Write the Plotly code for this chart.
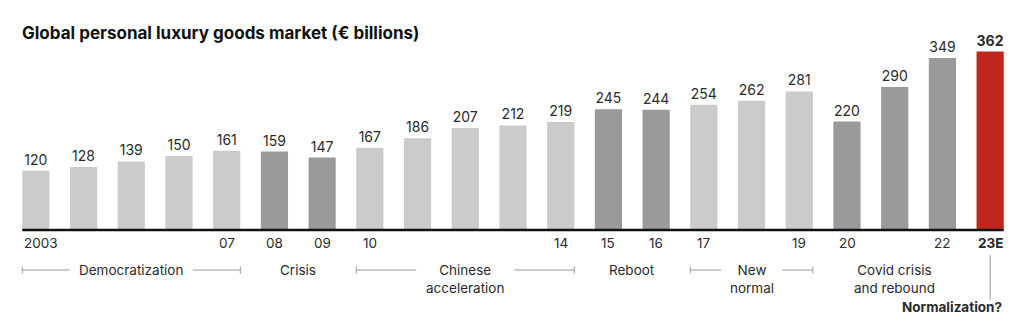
import plotly.graph_objects as go

years = ["2003", "04", "05", "06", "07", "08", "09", "10", "11", "12", "13", "14",
         "15", "16", "17", "18", "19", "20", "21", "22", "23E"]
values = [120, 128, 139, 150, 161, 159, 147, 167, 186, 207, 212, 219,
          245, 244, 254, 262, 281, 220, 290, 349, 362]
# 0 = light, 1 = dark, 2 = highlight
shade = [0, 0, 0, 0, 0, 1, 1, 0, 0, 0, 0, 0,
         1, 1, 0, 0, 0, 1, 1, 1, 2]
shown_year_labels = ["2003", "07", "08", "09", "10", "14", "15", "16", "17", "19", "20", "22", "23E"]
# periods: (first index, last index, label, bracket lines?)
periods = [
    (0, 4, "Democratization", True),
    (5, 6, "Crisis", False),
    (7, 11, "Chinese<br>acceleration", True),
    (12, 13, "Reboot", False),
    (14, 16, "New<br>normal", True),
    (17, 19, "Covid crisis<br>and rebound", False),
]
final_label = "Normalization?"
title = "Global personal luxury goods market (€ billions)"

FONT = "Inter"
LIGHT, DARK, RED = "#cbcbcb", "#9a9a9a", "#bf261d"
TXT = "#2b2b2b"
colors = [[LIGHT, DARK, RED][s] for s in shade]
PX = 1 / 0.493  # data units per pixel
HW = 0.285      # half bar width in x units
STEP = 47.7     # pixels per category

x = list(range(len(values)))
texts = [f"<b>{v}</b>" if s == 2 else str(v) for v, s in zip(values, shade)]

fig = go.Figure()
fig.add_trace(go.Bar(
    x=x, y=values, marker_color=colors, marker_line_width=0,
    text=texts, textposition="outside", cliponaxis=False,
    textfont=dict(family=FONT, size=14, color=TXT),
    width=2 * HW, hoverinfo="skip",
))

shapes = []
annotations = []
# baseline
shapes.append(dict(type="line", xref="x", yref="y", x0=-HW, x1=len(values) - 1 + HW,
                   y0=0, y1=0, line=dict(color="#111111", width=2.5)))

# year labels
for i, yr in enumerate(years):
    if yr in shown_year_labels:
        bold = (shade[i] == 2)
        annotations.append(dict(
            x=i - HW if i == 0 else i, y=-13 * PX, xref="x", yref="y",
            text=f"<b>{yr}</b>" if bold else yr, showarrow=False,
            xanchor="left" if i == 0 else "center", yanchor="middle",
            font=dict(family=FONT, size=13.5, color=TXT)))

# period labels and brackets
ly = -40 * PX
label_px = {"Democratization": 123, "Chinese<br>acceleration": 98, "New<br>normal": 61}
for a, b, lab, lines in periods:
    cx = (a + b) / 2
    two = "<br>" in lab
    annotations.append(dict(
        x=cx, y=ly + (0 if not two else -8.5 * PX), xref="x", yref="y",
        text=lab, showarrow=False, xanchor="center", yanchor="middle",
        font=dict(family=FONT, size=13.5, color=TXT), align="center"))
    if lines:
        left = a - HW
        right = b + HW
        half = (label_px[lab] / 2) / STEP
        for x0, x1 in [(left, cx - half), (cx + half, right)]:
            shapes.append(dict(type="line", xref="x", yref="y", x0=x0, x1=x1, y0=ly, y1=ly,
                               line=dict(color="#9a9a9a", width=1)))
        for xe in (left, right):
            shapes.append(dict(type="line", xref="x", yref="y", x0=xe, x1=xe,
                               y0=ly - 3.5 * PX, y1=ly + 3.5 * PX,
                               line=dict(color="#9a9a9a", width=1)))

# final label with connector
last = len(values) - 1
shapes.append(dict(type="line", xref="x", yref="y", x0=last, x1=last,
                   y0=-25 * PX, y1=-70 * PX, line=dict(color="#9a9a9a", width=1)))
annotations.append(dict(
    x=last + HW, y=-77 * PX, xref="x", yref="y", text=f"<b>{final_label}</b>",
    showarrow=False, xanchor="right", yanchor="middle",
    font=dict(family=FONT, size=13.5, color=TXT)))

fig.update_layout(
    width=1024, height=325,
    margin=dict(l=12, r=10, t=20, b=0),
    paper_bgcolor="white", plot_bgcolor="white",
    showlegend=False,
    bargap=0.43,
    title=dict(text=f"<b>{title}</b>", xref="container", yref="container",
               x=22 / 1024, y=1 - 33 / 325, xanchor="left", yanchor="middle",
               font=dict(family=FONT, size=17, color="#111111")),
    xaxis=dict(range=[-0.5, len(values) - 0.5], visible=False, fixedrange=True),
    yaxis=dict(range=[-95 * PX, 210 * PX], visible=False, fixedrange=True),
    shapes=shapes, annotations=annotations,
)

fig.write_html("out.html")
